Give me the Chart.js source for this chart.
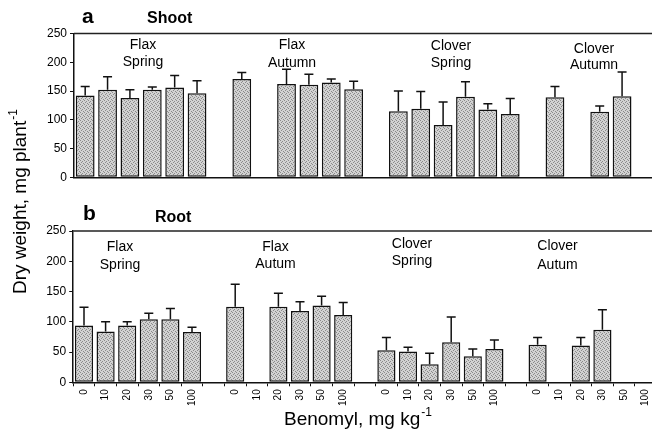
<!DOCTYPE html>
<html><head><meta charset="utf-8">
<script src="https://cdn.jsdelivr.net/npm/chart.js@4.4.1/dist/chart.umd.min.js"></script>
<style>
html,body{margin:0;padding:0;background:#fff;overflow:hidden;width:652px;height:433px;position:relative}
canvas{position:absolute;left:0;top:0}
</style></head>
<body>
<canvas id="topChart" width="690" height="433"></canvas>
<canvas id="botChart" width="670" height="433"></canvas>
<script>
// ---- data ----
const categories = ['0','10','20','30','50','100','',
                    '0','10','20','30','50','100','',
                    '0','10','20','30','50','100','',
                    '0','10','20','30','50','100'];
const shootMean = [142,152,138,152,156,146,null,
                   171,null,162,161,165,153,null,
                   115,119,91,140,118,110,null,
                   139,null,114,141,null,null];
const shootErr  = [16,23,14,5,21,22,null,
                   11,null,26,18,6,14,null,
                   35,30,40,26,10,27,null,
                   19,null,10,42,null,null];
const rootMean  = [94,84,94,104,104,83,null,
                   125,null,125,118,127,111,null,
                   53,51,30,66,43,55,null,
                   62,null,61,87,null,null];
const rootErr   = [30,16,6,10,18,8,null,
                   37,null,22,15,15,21,null,
                   21,7,18,42,12,15,null,
                   12,null,13,33,null,null];
const yTicks = [0,50,100,150,200,250];
const shootGroups = [['Flax','Spring'],['Flax','Autumn'],['Clover','Spring'],['Clover','Autumn']];
const rootGroups  = [['Flax','Spring'],['Flax','Autum'],['Clover','Spring'],['Clover','Autum']];

const FONT = '"Liberation Sans", Arial, sans-serif';
Chart.defaults.font.family = FONT;
Chart.defaults.color = '#000';

// stipple pattern for bars
function makePattern(){
  const c = document.createElement('canvas'); c.width = 4; c.height = 4;
  const g = c.getContext('2d');
  g.fillStyle = '#d2d2d2'; g.fillRect(0,0,4,4);
  g.fillStyle = '#8a8a8a';
  [[0,0],[2,1],[1,2],[3,3]].forEach(p=>g.fillRect(p[0],p[1],1,1));
  return g.createPattern(c,'repeat');
}
const pattern = makePattern();

function errorPlugin(errs){
  return {
    id:'errorBars',
    afterDatasetsDraw(chart){
      const {ctx, scales:{x,y}} = chart;
      const means = chart.data.datasets[0].data;
      ctx.save(); ctx.strokeStyle='#111'; ctx.lineWidth=1.5;
      means.forEach((m,i)=>{
        if(m==null || errs[i]==null) return;
        const px = x.getPixelForValue(i);
        const y0 = y.getPixelForValue(m), y1 = y.getPixelForValue(m+errs[i]);
        ctx.beginPath();
        ctx.moveTo(px,y0); ctx.lineTo(px,y1);
        ctx.moveTo(px-4.5,y1); ctx.lineTo(px+4.5,y1);
        ctx.stroke();
      });
      ctx.restore();
    }
  };
}

function textPlugin(items, extra){
  return {
    id:'texts',
    afterDraw(chart){
      const ctx = chart.ctx, a = chart.chartArea;
      ctx.save();
      // top frame line
      ctx.strokeStyle='#222'; ctx.lineWidth=1.5;
      ctx.beginPath(); ctx.moveTo(a.left,a.top); ctx.lineTo(a.right,a.top); ctx.stroke();
      ctx.fillStyle='#000'; ctx.textBaseline='alphabetic';
      items.forEach(t=>{
        ctx.font = t.font; ctx.textAlign = t.align || 'center';
        ctx.fillText(t.text, t.x, t.y);
      });
      if(extra) extra(ctx);
      ctx.restore();
    }
  };
}

function baseOptions(cfg){
  return {
    responsive:false, animation:false, devicePixelRatio:1,
    layout:{padding:cfg.padding},
    plugins:{legend:{display:false}, tooltip:{enabled:false}, title:{display:false}},
    scales:{
      x:{
        type:'category', offset:true,
        grid:{display:cfg.xTicks, drawOnChartArea:false, offset:true, tickLength:4, color:'#111', lineWidth:1},
        border:{display:true, color:'#111', width:1.5},
        ticks:{display:cfg.xTicks, minRotation:90, maxRotation:90, autoSkip:false, padding:3,
               font:{size:10}, color:'#000'},
        afterFit:s=>{ s.height = cfg.xHeight; }
      },
      y:{
        min:0, max:250,
        afterBuildTicks:s=>{ s.ticks = yTicks.map(v=>({value:v})); },
        grid:{display:true, drawOnChartArea:false, tickLength:4, color:'#111'},
        border:{display:true, color:'#111', width:1.5},
        ticks:{font:{size:12}, color:'#000', padding:3},
        afterFit:s=>{ s.width = cfg.yWidth; }
      }
    }
  };
}

function dataset(values){
  return {labels:categories, datasets:[{data:values, backgroundColor:pattern, borderColor:'#111',
    borderWidth:1.5, borderSkipped:false, barPercentage:0.84, categoryPercentage:1}]};
}

// ---- top panel (Shoot) ----
const topCenters = [[143,49,66],[292,49,67],[451,50,66.5],[594,52.5,69]];
const topTexts = [
  {text:'a', x:82, y:23, font:'bold 21px '+FONT, align:'left'},
  {text:'Shoot', x:147, y:23, font:'bold 16px '+FONT, align:'left'}
];
shootGroups.forEach((g,i)=>{
  const c = topCenters[i];
  topTexts.push({text:g[0], x:c[0], y:c[1], font:'14px '+FONT});
  topTexts.push({text:g[1], x:c[0], y:c[2], font:'14px '+FONT});
});
new Chart(document.getElementById('topChart'), {
  type:'bar', data:dataset(shootMean),
  options:baseOptions({padding:{left:0,right:12,top:33.5,bottom:255.7}, xTicks:false, xHeight:0, yWidth:74}),
  plugins:[errorPlugin(shootErr), textPlugin(topTexts)]
});

// ---- bottom panel (Root) ----
const botCenters = [[120,251,268.5],[275.5,251,267.5],[412,247.5,265],[557.5,250,268.5]];
const botTexts = [
  {text:'b', x:83, y:220, font:'bold 21px '+FONT, align:'left'},
  {text:'Root', x:155, y:222, font:'bold 16px '+FONT, align:'left'}
];
rootGroups.forEach((g,i)=>{
  const c = botCenters[i];
  botTexts.push({text:g[0], x:c[0], y:c[1], font:'14px '+FONT});
  botTexts.push({text:g[1], x:c[0], y:c[2], font:'14px '+FONT});
});
function axisTitles(ctx){
  // x title
  ctx.textAlign='left';
  ctx.font='19px '+FONT;
  const xt='Benomyl, mg kg';
  const xs=284, xb=425;
  ctx.fillText(xt, xs, xb);
  const w = ctx.measureText(xt).width;
  ctx.font='12px '+FONT;
  ctx.fillText('-1', xs+w+1, xb-9);
  // y title (rotated)
  ctx.save();
  ctx.translate(26, 294);
  ctx.rotate(-Math.PI/2);
  ctx.font='19px '+FONT;
  const yt='Dry weight, mg plant';
  ctx.fillText(yt, 0, 0);
  const w2 = ctx.measureText(yt).width;
  ctx.font='12px '+FONT;
  ctx.fillText('-1', w2+1, -9);
  ctx.restore();
}
new Chart(document.getElementById('botChart'), {
  type:'bar', data:dataset(rootMean),
  options:baseOptions({padding:{left:0,right:13.6,top:231,bottom:0}, xTicks:true, xHeight:50.7, yWidth:73.2}),
  plugins:[errorPlugin(rootErr), textPlugin(botTexts, axisTitles)]
});
</script>
</body></html>
